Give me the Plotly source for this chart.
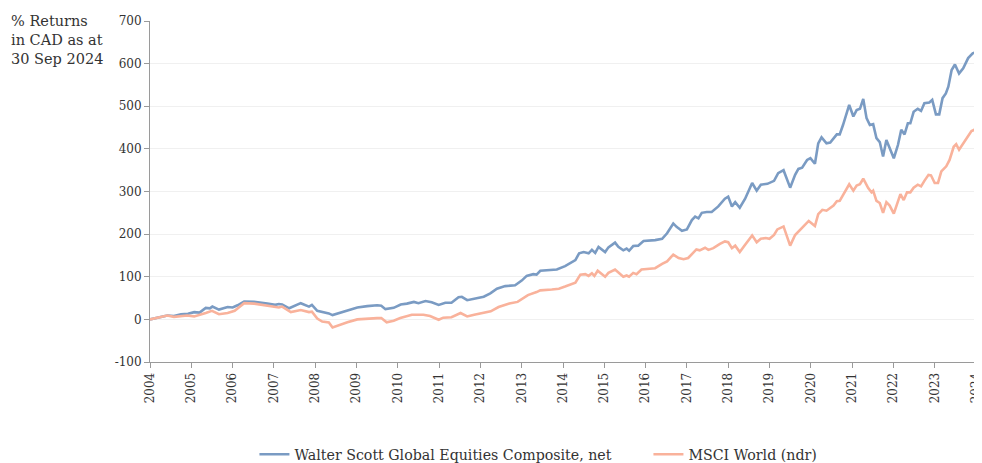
import plotly.graph_objects as go
import plotly.io as pio

pio.templates.default = "none"

# ---- data (decimal years, % returns) ----
ws_years = [2004.0, 2004.17, 2004.42, 2004.58, 2004.75, 2004.92, 2005.07, 2005.2, 2005.35, 2005.45,
            2005.51, 2005.67, 2005.88, 2006.0, 2006.12, 2006.28, 2006.52, 2006.84, 2007.03, 2007.12,
            2007.2, 2007.37, 2007.65, 2007.85, 2007.92, 2008.05, 2008.2, 2008.33, 2008.42, 2008.58,
            2008.78, 2009.02, 2009.26, 2009.5, 2009.6, 2009.7, 2009.9, 2010.07, 2010.22, 2010.39,
            2010.5, 2010.67, 2010.82, 2010.99, 2011.15, 2011.3, 2011.47, 2011.55, 2011.68, 2011.88,
            2012.08, 2012.24, 2012.4, 2012.6, 2012.84, 2013.0, 2013.12, 2013.28, 2013.36, 2013.45,
            2013.73, 2013.85, 2014.05, 2014.21, 2014.3, 2014.39, 2014.5, 2014.62, 2014.7, 2014.78,
            2014.86, 2015.02, 2015.1, 2015.26, 2015.34, 2015.46, 2015.54, 2015.6, 2015.7, 2015.82,
            2015.95, 2016.23, 2016.4, 2016.52, 2016.67, 2016.75, 2016.88, 2017.0, 2017.12, 2017.2,
            2017.28, 2017.36, 2017.48, 2017.6, 2017.76, 2017.92, 2018.0, 2018.09, 2018.17, 2018.28,
            2018.41, 2018.58, 2018.69, 2018.79, 2018.95, 2019.11, 2019.21, 2019.34, 2019.5, 2019.62,
            2019.7, 2019.79, 2019.91, 2019.99, 2020.1, 2020.18, 2020.26, 2020.38, 2020.47, 2020.63,
            2020.7, 2020.78, 2020.93, 2021.03, 2021.11, 2021.19, 2021.27, 2021.35, 2021.43, 2021.51,
            2021.59, 2021.67, 2021.75, 2021.83, 2021.91, 2022.01, 2022.11, 2022.19, 2022.27, 2022.35,
            2022.41, 2022.49, 2022.59, 2022.67, 2022.75, 2022.87, 2022.94, 2023.03, 2023.11, 2023.19,
            2023.27, 2023.33, 2023.41, 2023.49, 2023.59, 2023.69, 2023.81, 2023.92, 2024.0]
ws_values = [0, 4, 9, 8, 12, 13, 17, 16, 27, 26,
             30, 23, 29, 28, 33, 42, 41, 37, 34, 36,
             35, 26, 38, 30, 34, 20, 17, 14, 10, 15,
             22, 28, 31, 33, 32, 24, 27, 35, 37, 41,
             38, 43, 40, 34, 39, 39, 52, 53, 45, 49,
             53, 61, 72, 78, 80, 91, 102, 106, 105, 114,
             116, 117, 125, 133, 139, 155, 158, 155, 163, 156,
             170, 158, 169, 180, 170, 162, 166, 161, 172, 173,
             184, 186, 189, 202, 225, 217, 208, 211, 233, 241,
             237, 250, 252, 252, 265, 283, 288, 265, 275, 262,
             283, 320, 302, 316, 318, 325, 343, 350, 309, 339,
             353, 356, 374, 378, 365, 413, 427, 413, 415, 434,
             434, 456, 503, 476, 491, 494, 517, 472, 456, 458,
             425, 416, 382, 421, 402, 378, 409, 445, 434, 460,
             460, 487, 494, 489, 507, 509, 515, 481, 481, 519,
             530, 546, 585, 598, 577, 589, 613, 624, 627]

msci_years = [2004.0, 2004.17, 2004.42, 2004.58, 2004.75, 2004.9, 2005.07, 2005.2, 2005.35, 2005.5,
              2005.67, 2005.88, 2006.05, 2006.15, 2006.28, 2006.52, 2006.84, 2007.12, 2007.2, 2007.41,
              2007.65, 2007.85, 2007.92, 2008.05, 2008.17, 2008.33, 2008.42, 2008.58, 2008.78, 2009.02,
              2009.25, 2009.5, 2009.6, 2009.73, 2009.9, 2010.06, 2010.34, 2010.62, 2010.78, 2010.99,
              2011.1, 2011.3, 2011.52, 2011.68, 2011.85, 2012.1, 2012.25, 2012.44, 2012.7, 2012.9,
              2013.0, 2013.15, 2013.36, 2013.45, 2013.73, 2013.9, 2014.05, 2014.21, 2014.3, 2014.42,
              2014.54, 2014.62, 2014.7, 2014.76, 2014.84, 2015.02, 2015.1, 2015.26, 2015.38, 2015.46,
              2015.54, 2015.6, 2015.7, 2015.78, 2015.9, 2016.23, 2016.4, 2016.52, 2016.67, 2016.8,
              2016.92, 2017.03, 2017.15, 2017.23, 2017.31, 2017.44, 2017.52, 2017.64, 2017.8, 2017.92,
              2018.0, 2018.09, 2018.17, 2018.28, 2018.41, 2018.58, 2018.69, 2018.79, 2018.91, 2019.0,
              2019.11, 2019.19, 2019.34, 2019.5, 2019.62, 2019.74, 2019.95, 2020.1, 2020.18, 2020.28,
              2020.38, 2020.55, 2020.63, 2020.7, 2020.8, 2020.93, 2021.03, 2021.11, 2021.19, 2021.27,
              2021.39, 2021.47, 2021.51, 2021.59, 2021.67, 2021.75, 2021.83, 2021.91, 2022.01, 2022.09,
              2022.17, 2022.25, 2022.33, 2022.41, 2022.49, 2022.59, 2022.67, 2022.75, 2022.85, 2022.91,
              2023.0, 2023.08, 2023.16, 2023.28, 2023.36, 2023.46, 2023.52, 2023.59, 2023.69, 2023.81,
              2023.89, 2023.97, 2024.0]
msci_values = [0, 3, 9, 6, 8, 9, 7, 10, 15, 20,
               12, 15, 20, 28, 38, 37, 33, 28, 30, 17,
               22, 17, 18, 2, -5, -7, -19, -13, -7, 0,
               2, 3, 3, -7, -3, 3, 11, 11, 8, -1,
               4, 5, 15, 7, 11, 16, 19, 29, 37, 41,
               47, 57, 64, 68, 70, 72, 77, 83, 86, 105,
               106, 102, 108, 102, 114, 100, 109, 117, 108, 100,
               103, 100, 109, 106, 117, 120, 130, 136, 152, 144,
               141, 144, 156, 164, 162, 168, 163, 167, 177, 183,
               181, 167, 173, 158, 175, 197, 181, 189, 191, 189,
               198, 211, 218, 173, 198, 210, 231, 219, 247, 257,
               255, 267, 277, 278, 294, 317, 302, 314, 317, 330,
               308, 298, 302, 278, 273, 250, 275, 267, 248, 270,
               294, 280, 298, 298, 309, 316, 312, 325, 339, 338,
               320, 320, 347, 359, 374, 405, 411, 398, 413, 433,
               442, 445, 454]

series_names = ["Walter Scott Global Equities Composite, net", "MSCI World (ndr)"]
year_ticks = list(range(2004, 2025))
y_ticks = list(range(-100, 701, 100))
y_tick_labels = [str(v) for v in y_ticks]

FONT = "DejaVu Serif"
BLUE = "#7a9bc3"
ORANGE = "#f9b29b"
TXT = "#333333"

# page body has an 8px margin, so margins are offset to land the plot at the reference pixels
ML, MR, MT, MB = 141.5, 14, 12.7, 108.7
PW = 982 - ML - MR
PH = 463 - MT - MB
PLOT_LEFT_PAGE = ML + 8

fig = go.Figure()
fig.add_trace(go.Scatter(x=ws_years, y=ws_values, mode="lines", name=series_names[0],
                         line=dict(color=BLUE, width=2.6)))
fig.add_trace(go.Scatter(x=msci_years, y=msci_values, mode="lines", name=series_names[1],
                         line=dict(color=ORANGE, width=2.6)))

fig.update_layout(
    width=982, height=463,
    margin=dict(l=ML, r=MR, t=MT, b=MB, autoexpand=False),
    paper_bgcolor="white", plot_bgcolor="white",
    font=dict(family=FONT, size=12, color=TXT),
    showlegend=True,
    legend=dict(orientation="h", x=(254 - PLOT_LEFT_PAGE) / PW, xanchor="left",
                y=(MT + PH - 447) / PH, yanchor="middle",
                font=dict(family=FONT, size=14.2, color=TXT), itemwidth=30,
                entrywidth=349, entrywidthmode="pixels",
                traceorder="normal"),
    annotations=[dict(text="% Returns<br>in CAD as at<br>30 Sep 2024", xref="paper", yref="paper",
                      x=-ML / PW, xanchor="left", y=1 + (MT - 3) / PH, yanchor="top",
                      showarrow=False, align="left",
                      font=dict(family=FONT, size=14.5, color=TXT))],
)
fig.update_xaxes(range=[2004, 2024], tickvals=year_ticks, ticktext=[str(t) for t in year_ticks],
                 tickangle=-90, showgrid=False, zeroline=False, showline=True, linecolor="#9a9a9a",
                 linewidth=1, ticks="outside", ticklen=5, tickcolor="#9a9a9a",
                 tickfont=dict(family=FONT, size=12, color=TXT))
fig.update_yaxes(range=[-100, 700], tickvals=y_ticks, ticktext=y_tick_labels, showgrid=True,
                 gridcolor="#f0f0f0", gridwidth=1, zeroline=False, showline=True,
                 linecolor="#9a9a9a", linewidth=1, ticks="outside", ticklen=5, tickcolor="#9a9a9a",
                 tickfont=dict(family=FONT, size=12, color=TXT))

fig.write_html("out.html")
